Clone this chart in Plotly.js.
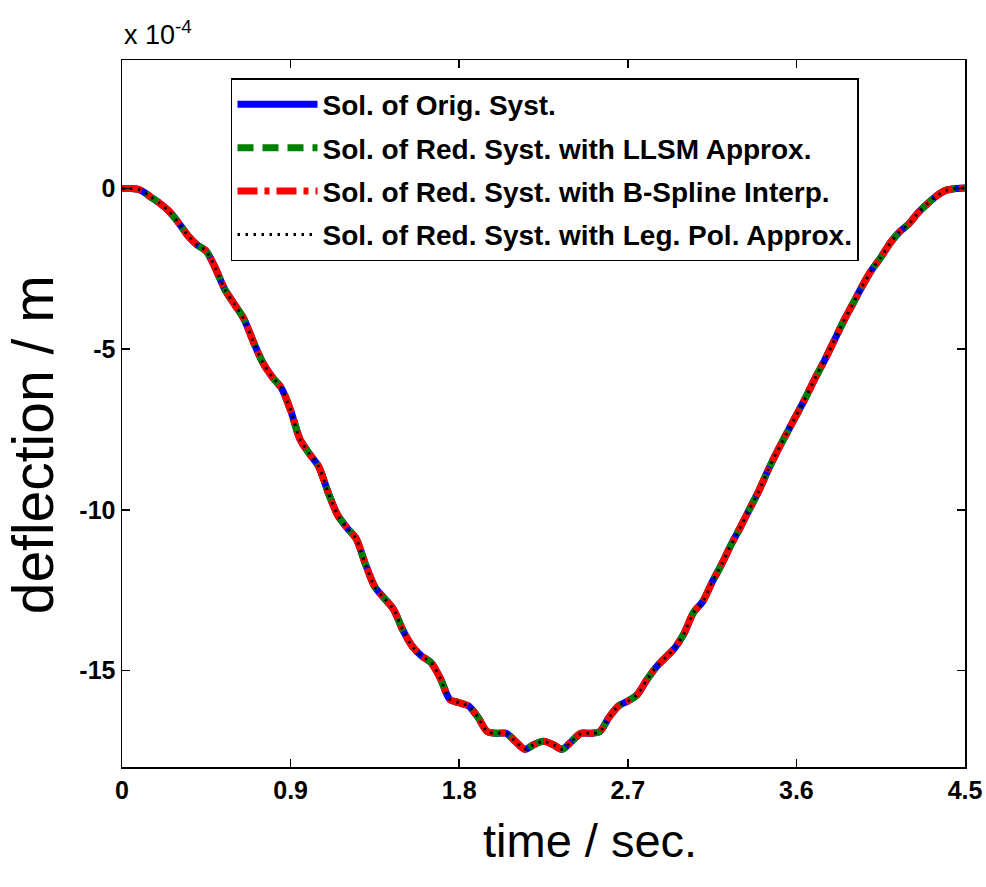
<!DOCTYPE html>
<html>
<head>
<meta charset="utf-8">
<script src="https://cdn.plot.ly/plotly-3.0.1.min.js"></script>
<style>html,body{margin:0;padding:0;background:#fff;}</style>
</head>
<body>
<div id="chart" style="width:986px;height:887px;"></div>
<script>
// time in seconds
const timeSec = [0,0.05,0.1,0.15,0.2,0.25,0.3,0.35,0.4,0.45,0.5,0.55,0.6,0.65,0.7,0.75,0.8,0.85,0.9,0.95,
  1.0,1.05,1.1,1.15,1.2,1.25,1.3,1.35,1.4,1.45,1.5,1.55,1.6,1.65,1.7,1.75,1.8,1.85,1.9,1.95,
  2.0,2.05,2.1,2.15,2.2,2.25,2.3,2.35,2.4,2.45,2.5,2.55,2.6,2.65,2.7,2.75,2.8,2.85,2.9,2.95,
  3.0,3.05,3.1,3.15,3.2,3.25,3.3,3.35,3.4,3.45,3.5,3.55,3.6,3.65,3.7,3.75,3.8,3.85,3.9,3.95,
  4.0,4.05,4.1,4.15,4.2,4.25,4.3,4.35,4.4,4.45,4.5];
// deflection in units of 1e-4 m
const deflection = [0,0,-0.05,-0.25,-0.45,-0.7,-1.05,-1.45,-1.75,-1.95,-2.5,-3.15,-3.6,-4.05,-4.75,-5.4,-5.85,-6.2,-6.9,-7.8,
  -8.25,-8.65,-9.45,-10.15,-10.55,-10.9,-11.7,-12.4,-12.75,-13.1,-13.75,-14.25,-14.55,-14.75,-15.25,-15.9,-16.0,-16.1,-16.45,-16.9,
  -16.95,-16.95,-17.2,-17.45,-17.3,-17.2,-17.3,-17.45,-17.2,-16.95,-16.95,-16.9,-16.45,-16.1,-15.95,-15.75,-15.3,-14.9,-14.6,-14.3,
  -13.85,-13.2,-12.85,-12.25,-11.7,-11.1,-10.55,-9.97,-9.4,-8.75,-8.15,-7.6,-7.05,-6.5,-5.9,-5.35,-4.75,-4.15,-3.6,-3.05,
  -2.55,-2.15,-1.7,-1.35,-1.1,-0.75,-0.47,-0.22,-0.05,0,0.02];

const seriesNames = [
  "Sol. of Orig. Syst.",
  "Sol. of Red. Syst. with LLSM Approx.",
  "Sol. of Red. Syst. with B-Spline Interp.",
  "Sol. of Red. Syst. with Leg. Pol. Approx."
];
const xTickVals = [0,0.9,1.8,2.7,3.6,4.5];
const xTickText = ["0","0.9","1.8","2.7","3.6","4.5"];
const yTickVals = [0,-5,-10,-15];
const yTickText = ["0","-5","-10","-15"];
const xTitle = "time / sec.";
const yTitle = "deflection / m";
const scaleLabel = "x 10<sup>-4</sup>";

const styles = [
  {color:"#0000ff", width:7, dash:"solid"},
  {color:"#008000", width:7, dash:"16px,9px"},
  {color:"#ff0000", width:7, dash:"20px,7px,5px,7px"},
  {color:"#000000", width:3, dash:"2.5px,5.5px"}
];

const traces = seriesNames.map((name,i)=>({
  x: timeSec, y: deflection, name: name, type:"scatter", mode:"lines",
  line: Object.assign({shape:"spline", smoothing:0.8}, styles[i]), legendgroup: "g"+i
}));

const FF = "Liberation Sans, Arial, sans-serif";
const tickFont = {family:FF, size:25, color:"#000", weight:"bold"};

const layout = {
  width:986, height:887,
  margin:{l:122, r:21, t:60, b:120},
  paper_bgcolor:"#fff", plot_bgcolor:"#fff",
  showlegend:true,
  legend:{
    x:0.1293, y:0.9745, xanchor:"left", yanchor:"top",
    bgcolor:"#fff", bordercolor:"#000", borderwidth:1.5,
    font:{family:FF, size:28, color:"#000", weight:"bold"},
    traceorder:"grouped", tracegroupgap:4, itemwidth:80
  },
  xaxis:{
    range:[0,4.5], tickvals:xTickVals, ticktext:xTickText,
    showgrid:false, zeroline:false, showline:true, linecolor:"#000", linewidth:1.5,
    mirror:"ticks", ticks:"inside", ticklen:8, tickwidth:1.5, tickcolor:"#000",
    tickfont:tickFont
  },
  yaxis:{
    range:[-18,4], tickvals:yTickVals, ticktext:yTickText,
    showgrid:false, zeroline:false, showline:true, linecolor:"#000", linewidth:1.5,
    mirror:"ticks", ticks:"inside", ticklen:8, tickwidth:1.5, tickcolor:"#000",
    tickfont:tickFont
  },
  annotations:[
    {xref:"paper", yref:"paper", x:0, y:1, xanchor:"left", yanchor:"bottom", yshift:8,
     text:scaleLabel, showarrow:false, font:{family:FF, size:27, color:"#000"}},
    {xref:"paper", yref:"paper", x:0.555, y:0, xanchor:"center", yanchor:"middle", yshift:-73,
     text:xTitle, showarrow:false, font:{family:FF, size:47, color:"#000"}},
    {xref:"paper", yref:"paper", x:0, y:0.455, xanchor:"center", yanchor:"middle", xshift:-89,
     text:yTitle, textangle:-90, showarrow:false, font:{family:FF, size:57, color:"#000"}}
  ]
};

Plotly.newPlot("chart", traces, layout, {staticPlot:true, displayModeBar:false});
</script>
</body>
</html>
